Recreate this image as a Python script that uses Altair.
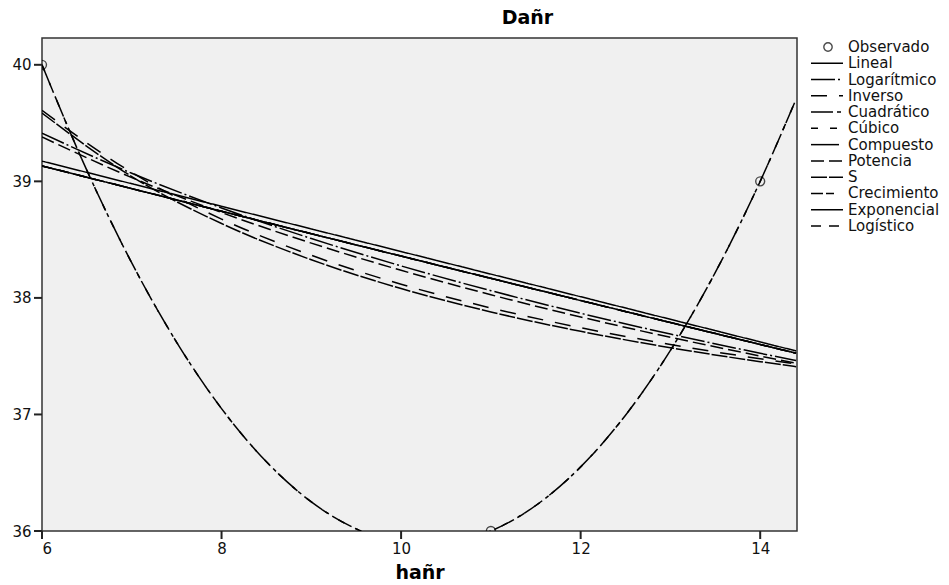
import altair as alt
import pandas as pd

# Observed points
x_obs = [6, 11, 14]
y_obs = [40, 36, 39]

# Fitted curves
x_fit = [6, 7, 8, 9, 10, 11, 12, 13, 14, 14.4]
lineal = [39.1735, 38.9796, 38.7857, 38.5918, 38.3980, 38.2041, 38.0102, 37.8163, 37.6224, 37.5449]
logaritmico = [39.4130, 39.0695, 38.7719, 38.5094, 38.2746, 38.0622, 37.8683, 37.6899, 37.5248, 37.4620]
inverso = [39.6086, 39.0759, 38.6764, 38.3656, 38.1170, 37.9136, 37.7442, 37.6007, 37.4778, 37.4334]
compuesto = [39.1324, 38.9376, 38.7437, 38.5508, 38.3588, 38.1678, 37.9777, 37.7886, 37.6005, 37.5255]
potencia = [39.3811, 39.0322, 38.7325, 38.4700, 38.2368, 38.0270, 37.8365, 37.6620, 37.5013, 37.4404]
s_curva = [39.5857, 39.0413, 38.6380, 38.3272, 38.0803, 37.8795, 37.7130, 37.5726, 37.4528, 37.4096]
crecimiento = [39.1324, 38.9376, 38.7437, 38.5508, 38.3588, 38.1678, 37.9777, 37.7886, 37.6005, 37.5255]
exponencial = [39.1324, 38.9376, 38.7437, 38.5508, 38.3588, 38.1678, 37.9777, 37.7886, 37.6005, 37.5255]
logistico = [39.1324, 38.9376, 38.7437, 38.5508, 38.3588, 38.1678, 37.9777, 37.7886, 37.6005, 37.5255]

x_quad = [6, 6.5, 7, 7.5, 8, 8.5, 9, 9.5, 10, 10.5, 11, 11.5, 12, 12.5, 13, 13.5, 14, 14.4]
cuadratico = [40.0, 39.0938, 38.3, 37.6188, 37.05, 36.5938, 36.25, 36.0188, 35.9, 35.8938,
              36.0, 36.2188, 36.55, 36.9938, 37.55, 38.2188, 39.0, 39.706]
cubico = [40.0, 39.0938, 38.3, 37.6188, 37.05, 36.5938, 36.25, 36.0188, 35.9, 35.8938,
          36.0, 36.2188, 36.55, 36.9938, 37.55, 38.2188, 39.0, 39.706]

x_ticks = [6, 8, 10, 12, 14]
y_ticks = [36, 37, 38, 39, 40]

names = ["Lineal", "Logarítmico", "Inverso", "Cuadrático", "Cúbico", "Compuesto",
         "Potencia", "S", "Crecimiento", "Exponencial", "Logístico"]
dash_range = [[1, 0], [24, 3, 2, 3], [16, 12], [22, 4, 4, 4], [7, 12], [28, 4, 1, 4],
              [13, 5], [16, 2], [12, 3, 8, 10], [1, 0], [10, 8]]

series = {
    "Lineal": (x_fit, lineal), "Logarítmico": (x_fit, logaritmico), "Inverso": (x_fit, inverso),
    "Cuadrático": (x_quad, cuadratico), "Cúbico": (x_quad, cubico), "Compuesto": (x_fit, compuesto),
    "Potencia": (x_fit, potencia), "S": (x_fit, s_curva), "Crecimiento": (x_fit, crecimiento),
    "Exponencial": (x_fit, exponencial), "Logístico": (x_fit, logistico),
}
rows = []
for n in names:
    xs_, ys_ = series[n]
    for a, b in zip(xs_, ys_):
        rows.append({"x": a, "y": b, "serie": n})
df = pd.DataFrame(rows)
obs = pd.DataFrame({"x": x_obs, "y": y_obs})
xt = pd.DataFrame({"x": x_ticks})
yt = pd.DataFrame({"y": y_ticks})

leg_lines = pd.DataFrame({"serie": names, "row": list(range(1, 12))})
leg_obs = pd.DataFrame({"serie": ["Observado"], "row": [0]})
leg_all = pd.DataFrame({"serie": ["Observado"] + names, "row": list(range(0, 12))})

FONT = "DejaVu Sans"
xs = alt.Scale(domain=[6, 14.41], nice=False, zero=False)
ys = alt.Scale(domain=[36, 40.23], nice=False, zero=False)
row_scale = alt.Scale(domain=[0, 11], range=[9, 188])

x_axis = alt.Axis(values=x_ticks, title="hañr", format="d",
                  titleFont=FONT, titleFontSize=19, titleFontWeight="bold",
                  titleColor="black", titlePadding=7,
                  labelFont=FONT, labelFontSize=15, labelColor="#111",
                  ticks=False, domain=False, grid=False, labelPadding=10)
y_axis = alt.Axis(values=y_ticks, title=None, format="d",
                  labelFont=FONT, labelFontSize=15, labelColor="#111",
                  ticks=False, domain=False, grid=False, labelPadding=11)

lines = alt.Chart(df).mark_line(clip=True, interpolate="monotone", color="black", strokeWidth=1.5).encode(
    x=alt.X("x:Q", scale=xs, axis=x_axis),
    y=alt.Y("y:Q", scale=ys, axis=y_axis),
    strokeDash=alt.StrokeDash("serie:N", scale=alt.Scale(domain=names, range=dash_range), legend=None),
)

points = alt.Chart(obs).mark_point(clip=True, shape="circle", filled=False, size=80,
                                   color="black", strokeWidth=1.4).encode(
    x=alt.X("x:Q", scale=xs, axis=x_axis),
    y=alt.Y("y:Q", scale=ys, axis=None),
)

# tick marks on the frame
x_tick_marks = alt.Chart(xt).mark_rule(color="#222", strokeWidth=2).encode(
    x=alt.X("x:Q", scale=xs, axis=x_axis),
    y=alt.value(493), y2=alt.value(501),
)
y_tick_marks = alt.Chart(yt).mark_rule(color="#222", strokeWidth=2).encode(
    y=alt.Y("y:Q", scale=ys, axis=None),
    x=alt.value(-8), x2=alt.value(0),
)

leg_rules = alt.Chart(leg_lines).mark_rule(color="black", strokeWidth=1.5).encode(
    x=alt.value(769), x2=alt.value(801),
    y=alt.Y("row:Q", scale=row_scale, axis=None),
    strokeDash=alt.StrokeDash("serie:N", legend=None),
)

leg_point = alt.Chart(leg_obs).mark_point(shape="circle", filled=False, size=70,
                                          color="black", strokeWidth=1.4).encode(
    x=alt.value(786),
    y=alt.Y("row:Q", scale=row_scale, axis=None),
)

leg_text = alt.Chart(leg_all).mark_text(align="left", baseline="middle", font=FONT,
                                        fontSize=15, color="#111").encode(
    x=alt.value(806),
    y=alt.Y("row:Q", scale=row_scale, axis=None),
    text="serie:N",
)

chart = alt.layer(lines, points, x_tick_marks, y_tick_marks, leg_rules, leg_point, leg_text).resolve_scale(
    y="independent"
).properties(
    width=755, height=493,
    title=alt.TitleParams("Dañr", font=FONT, fontSize=19, fontWeight="bold", color="black",
                          anchor="middle", dx=108, offset=10),
    autosize=alt.AutoSizeParams(type="none"),
    padding={"left": 42, "top": 38, "right": 152, "bottom": 54},
    background="white",
).configure_view(
    fill="#f0f0f0", stroke="#333", strokeWidth=1.5
)

chart.save("out.html", embed_options={"renderer": "svg", "actions": False})
